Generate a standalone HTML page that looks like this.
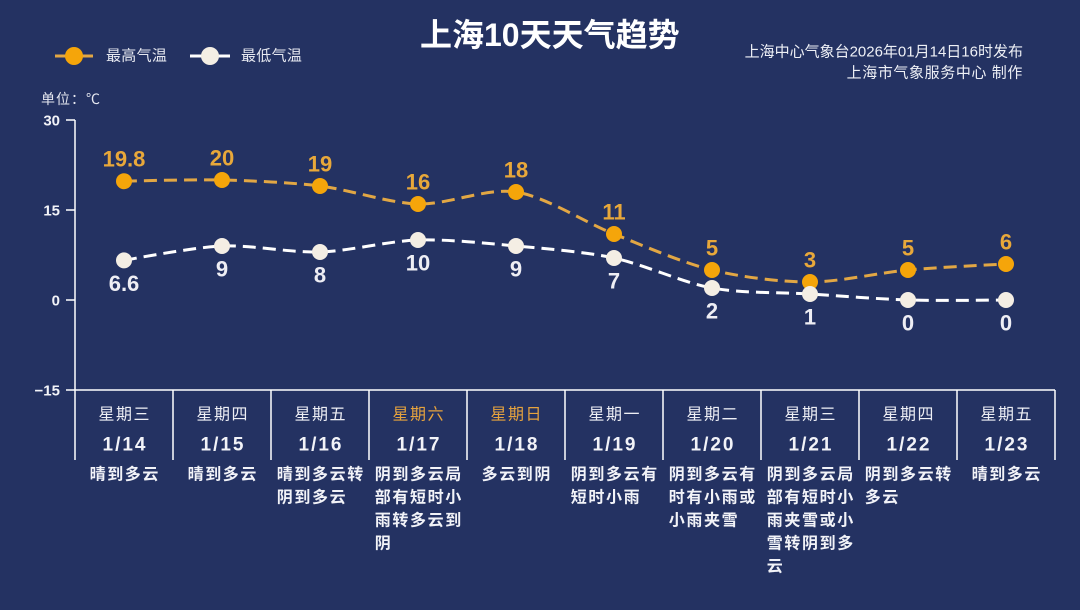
<!DOCTYPE html>
<html>
<head>
<meta charset="utf-8">
<style>
  html,body{margin:0;padding:0;background:#243262;}
  body{width:1080px;height:610px;overflow:hidden;}
  svg{display:block;}
  text{font-family:"Liberation Sans","Noto Sans CJK SC",sans-serif;}
</style>
</head>
<body>
<svg width="1080" height="610" viewBox="0 0 1080 610" xmlns="http://www.w3.org/2000/svg">
  <rect x="0" y="0" width="1080" height="610" fill="#243262"/>

  <!-- Title -->
  <text x="420" y="35" font-size="32" font-weight="bold" fill="#ffffff" dominant-baseline="central">上海10天天气趋势</text>

  <!-- Right info -->
  <text x="1023" y="52" font-size="15" fill="#eef0f6" text-anchor="end" dominant-baseline="central">上海中心气象台2026年01月14日16时发布</text>
  <text x="1023" y="73" font-size="15" fill="#eef0f6" text-anchor="end" dominant-baseline="central" letter-spacing="0.6">上海市气象服务中心 制作</text>

  <!-- Legend -->
  <line x1="55" y1="56" x2="93" y2="56" stroke="#e2a744" stroke-width="3"/>
  <circle cx="74" cy="56" r="9" fill="#f5a50a"/>
  <text x="106" y="56" font-size="15" fill="#e6e8f0" dominant-baseline="central" letter-spacing="0.3">最高气温</text>
  <line x1="190" y1="56" x2="230" y2="56" stroke="#ffffff" stroke-width="3"/>
  <circle cx="210" cy="56" r="9" fill="#f4eee4"/>
  <text x="241" y="56" font-size="15" fill="#e6e8f0" dominant-baseline="central" letter-spacing="0.3">最低气温</text>

  <!-- Unit -->
  <text x="41" y="99" font-size="14" fill="#e6e8f0" dominant-baseline="central" letter-spacing="1">单位：℃</text>

  <!-- Y axis -->
  <g stroke="#ffffff" stroke-width="1.5" fill="none">
    <line x1="75" y1="120" x2="75" y2="460"/>
    <line x1="66" y1="120" x2="75" y2="120"/>
    <line x1="66" y1="210" x2="75" y2="210"/>
    <line x1="66" y1="300" x2="75" y2="300"/>
    <line x1="66" y1="390" x2="1055" y2="390"/>
    <line x1="173" y1="390" x2="173" y2="460"/>
    <line x1="271" y1="390" x2="271" y2="460"/>
    <line x1="369" y1="390" x2="369" y2="460"/>
    <line x1="467" y1="390" x2="467" y2="460"/>
    <line x1="565" y1="390" x2="565" y2="460"/>
    <line x1="663" y1="390" x2="663" y2="460"/>
    <line x1="761" y1="390" x2="761" y2="460"/>
    <line x1="859" y1="390" x2="859" y2="460"/>
    <line x1="957" y1="390" x2="957" y2="460"/>
    <line x1="1055" y1="390" x2="1055" y2="460"/>
  </g>
  <g font-size="15" font-weight="bold" fill="#f2f3f8" text-anchor="end" dominant-baseline="central">
    <text x="60" y="121">30</text>
    <text x="60" y="211">15</text>
    <text x="60" y="301">0</text>
    <text x="60" y="391">−15</text>
  </g>

  <!-- High temp line -->
  <path d="M124,181.2 C124,181.2 192.6,179.28 222,180 C251.4,180.72 290.6,182.4 320,186 C349.4,189.6 388.6,203.1 418,204 C447.4,204.9 486.6,187.5 516,192 C545.4,196.5 584.6,222.3 614,234 C643.4,245.7 682.6,262.8 712,270 C741.4,277.2 780.6,282 810,282 C839.4,282 878.6,272.7 908,270 C937.4,267.3 1006,264 1006,264"
        fill="none" stroke="#e2a744" stroke-width="3" stroke-dasharray="13 7"/>
  <!-- Low temp line -->
  <path d="M124,260.4 C124,260.4 192.6,247.26 222,246 C251.4,244.74 290.6,252.9 320,252 C349.4,251.1 388.6,240.9 418,240 C447.4,239.1 486.6,243.3 516,246 C545.4,248.7 584.6,251.7 614,258 C643.4,264.3 682.6,282.6 712,288 C741.4,293.4 780.6,292.2 810,294 C839.4,295.8 878.6,299.1 908,300 C937.4,300.9 1006,300 1006,300"
        fill="none" stroke="#ffffff" stroke-width="3" stroke-dasharray="13 7"/>

  <!-- High points -->
  <g fill="#f5a50a">
    <circle cx="124" cy="181.2" r="8"/>
    <circle cx="222" cy="180" r="8"/>
    <circle cx="320" cy="186" r="8"/>
    <circle cx="418" cy="204" r="8"/>
    <circle cx="516" cy="192" r="8"/>
    <circle cx="614" cy="234" r="8"/>
    <circle cx="712" cy="270" r="8"/>
    <circle cx="810" cy="282" r="8"/>
    <circle cx="908" cy="270" r="8"/>
    <circle cx="1006" cy="264" r="8"/>
  </g>
  <!-- Low points -->
  <g fill="#f4eee4">
    <circle cx="124" cy="260.4" r="8"/>
    <circle cx="222" cy="246" r="8"/>
    <circle cx="320" cy="252" r="8"/>
    <circle cx="418" cy="240" r="8"/>
    <circle cx="516" cy="246" r="8"/>
    <circle cx="614" cy="258" r="8"/>
    <circle cx="712" cy="288" r="8"/>
    <circle cx="810" cy="294" r="8"/>
    <circle cx="908" cy="300" r="8"/>
    <circle cx="1006" cy="300" r="8"/>
  </g>

  <!-- High labels -->
  <g font-size="22" font-weight="bold" fill="#e8a83a" text-anchor="middle" dominant-baseline="central">
    <text x="124" y="159">19.8</text>
    <text x="222" y="158">20</text>
    <text x="320" y="164">19</text>
    <text x="418" y="182">16</text>
    <text x="516" y="170">18</text>
    <text x="614" y="212">11</text>
    <text x="712" y="248">5</text>
    <text x="810" y="260">3</text>
    <text x="908" y="248">5</text>
    <text x="1006" y="242">6</text>
  </g>
  <!-- Low labels -->
  <g font-size="22" font-weight="bold" fill="#eeeef4" text-anchor="middle" dominant-baseline="central">
    <text x="124" y="283.4">6.6</text>
    <text x="222" y="269">9</text>
    <text x="320" y="275">8</text>
    <text x="418" y="263">10</text>
    <text x="516" y="269">9</text>
    <text x="614" y="281">7</text>
    <text x="712" y="311">2</text>
    <text x="810" y="317">1</text>
    <text x="908" y="323">0</text>
    <text x="1006" y="323">0</text>
  </g>

  <!-- Weekdays -->
  <g font-size="16" fill="#eeeff5" text-anchor="middle" dominant-baseline="central" letter-spacing="1.5">
    <text x="124.7" y="415">星期三</text>
    <text x="222.7" y="415">星期四</text>
    <text x="320.7" y="415">星期五</text>
    <text x="418.7" y="415" fill="#e6a33e">星期六</text>
    <text x="516.7" y="415" fill="#e6a33e">星期日</text>
    <text x="614.7" y="415">星期一</text>
    <text x="712.7" y="415">星期二</text>
    <text x="810.7" y="415">星期三</text>
    <text x="908.7" y="415">星期四</text>
    <text x="1006.7" y="415">星期五</text>
  </g>
  <!-- Dates -->
  <g font-size="19" font-weight="bold" fill="#f2f3f8" text-anchor="middle" dominant-baseline="central" letter-spacing="2">
    <text x="125" y="445">1/14</text>
    <text x="223" y="445">1/15</text>
    <text x="321" y="445">1/16</text>
    <text x="419" y="445">1/17</text>
    <text x="517" y="445">1/18</text>
    <text x="615" y="445">1/19</text>
    <text x="713" y="445">1/20</text>
    <text x="811" y="445">1/21</text>
    <text x="909" y="445">1/22</text>
    <text x="1007" y="445">1/23</text>
  </g>

  <!-- Descriptions -->
  <g font-size="16" font-weight="bold" fill="#f2f3f8" dominant-baseline="central" letter-spacing="1.6">
    <text x="89.6" y="475">晴到多云</text>
    <text x="187.6" y="475">晴到多云</text>
    <text x="276.8" y="475">晴到多云转</text>
    <text x="276.8" y="498">阴到多云</text>
    <text x="374.8" y="475">阴到多云局</text>
    <text x="374.8" y="498">部有短时小</text>
    <text x="374.8" y="521">雨转多云到</text>
    <text x="374.8" y="544">阴</text>
    <text x="481.6" y="475">多云到阴</text>
    <text x="570.8" y="475">阴到多云有</text>
    <text x="570.8" y="498">短时小雨</text>
    <text x="668.8" y="475">阴到多云有</text>
    <text x="668.8" y="498">时有小雨或</text>
    <text x="668.8" y="521">小雨夹雪</text>
    <text x="766.8" y="475">阴到多云局</text>
    <text x="766.8" y="498">部有短时小</text>
    <text x="766.8" y="521">雨夹雪或小</text>
    <text x="766.8" y="544">雪转阴到多</text>
    <text x="766.8" y="567">云</text>
    <text x="864.8" y="475">阴到多云转</text>
    <text x="864.8" y="498">多云</text>
    <text x="971.6" y="475">晴到多云</text>
  </g>
</svg>
</body>
</html>
